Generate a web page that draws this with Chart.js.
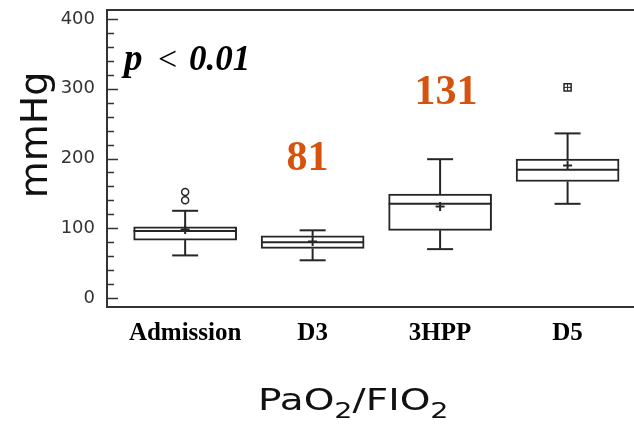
<!DOCTYPE html>
<html>
<head>
<meta charset="utf-8">
<script src="https://cdn.jsdelivr.net/npm/chart.js@4.4.1/dist/chart.umd.min.js"></script>
<style>
  html, body { margin: 0; padding: 0; background: #fff; }
  canvas { display: block; }
</style>
</head>
<body>
<canvas id="c" width="634" height="424"></canvas>
<script>
// PaO2/FIO2 by time point (mmHg): box-plot summaries
const categories  = ['Admission', 'D3', '3HPP', 'D5'];
const whiskerLow  = [61, 54, 70, 135];
const q1          = [83, 71, 97, 167];
const median      = [96, 80, 135, 184];
const q3          = [102, 89, 149, 199];
const whiskerHigh = [125, 97, 199, 236];
const means       = [98, 81, 131, 190];
const outliersAdmission = [140, 152];
const outliersD5  = [302];
const yTicks = [0, 20, 40, 60, 80, 100, 120, 140, 160, 180, 200, 220, 240, 260, 280, 300, 320, 340, 360, 380, 400];
const yLabelStep = 100;

const ink = '#262626';
const accent = '#d5530f';

// Whiskers, caps and median lines on top of the boxes
const boxExtras = {
  id: 'boxExtras',
  afterDatasetsDraw(chart) {
    const { ctx, scales: { x, y } } = chart;
    const boxes = chart.getDatasetMeta(0).data;
    const cap = 13;
    ctx.save();
    ctx.strokeStyle = ink;
    ctx.lineWidth = 2;
    const seg = (x1, y1, x2, y2) => { ctx.beginPath(); ctx.moveTo(x1, y1); ctx.lineTo(x2, y2); ctx.stroke(); };
    categories.forEach((c, i) => {
      const px = x.getPixelForValue(i + 1);
      const half = boxes[i].width / 2;
      const yHi = y.getPixelForValue(whiskerHigh[i]);
      const yLo = y.getPixelForValue(whiskerLow[i]);
      seg(px, y.getPixelForValue(q3[i]), px, yHi);
      seg(px - cap, yHi, px + cap, yHi);
      seg(px, y.getPixelForValue(q1[i]), px, yLo);
      seg(px - cap, yLo, px + cap, yLo);
      const ym = y.getPixelForValue(median[i]);
      seg(px - half, ym, px + half, ym);
    });
    ctx.restore();
  }
};

// Open frame (left, top, bottom) with inward tick marks
const frame = {
  id: 'frame',
  beforeDatasetsDraw(chart) {
    const { ctx, chartArea: a, scales: { y } } = chart;
    ctx.save();
    ctx.strokeStyle = '#333';
    ctx.lineWidth = 2;
    ctx.beginPath();
    ctx.moveTo(chart.width, a.top); ctx.lineTo(a.left, a.top);
    ctx.lineTo(a.left, a.bottom); ctx.lineTo(chart.width, a.bottom);
    ctx.stroke();
    ctx.lineWidth = 1.5;
    yTicks.forEach(v => {
      const py = Math.round(y.getPixelForValue(v)) + 0.5;
      const len = v % yLabelStep === 0 ? 11 : 7;
      ctx.beginPath(); ctx.moveTo(a.left, py); ctx.lineTo(a.left + len, py); ctx.stroke();
    });
    ctx.restore();
  }
};

// Titles, significance note and mean annotations
const annotations = {
  id: 'annotations',
  afterDraw(chart, args, opts) {
    const { ctx, chartArea: a, scales: { x, y } } = chart;
    ctx.save();

    // y-axis title
    ctx.fillStyle = '#111';
    ctx.font = '38px "DejaVu Sans"';
    ctx.textAlign = 'center';
    ctx.textBaseline = 'alphabetic';
    ctx.translate(47, 135);
    ctx.rotate(-Math.PI / 2);
    ctx.fillText('mmHg', 0, 0);
    ctx.setTransform(1, 0, 0, 1, 0, 0);

    // significance note
    ctx.textAlign = 'left';
    ctx.fillStyle = '#000';
    ctx.font = 'italic bold 37px "Liberation Serif"';
    ctx.fillText('p', a.left + 17, 70);
    ctx.font = '34px "Liberation Serif"';
    ctx.fillText('<', a.left + 51, 70);
    ctx.font = 'italic bold 35px "Liberation Serif"';
    ctx.fillText('0.01', a.left + 82, 70);

    // mean value labels
    ctx.fillStyle = accent;
    ctx.font = 'bold 42px "Liberation Serif"';
    ctx.textAlign = 'center';
    opts.meanLabels.forEach(l => {
      ctx.fillText(String(means[l.index]), x.getPixelForValue(l.index + 1) + l.dx, y.getPixelForValue(l.at));
    });

    // x-axis title with subscripts, drawn slightly widened
    ctx.fillStyle = '#111';
    ctx.textAlign = 'left';
    ctx.translate(258, 410);
    ctx.scale(1.3, 1);
    let cx = 0;
    const parts = [['PaO', 0], ['2', 1], ['/FIO', 0], ['2', 1]];
    parts.forEach(([t, sub]) => {
      ctx.font = sub ? '22px "DejaVu Sans"' : '30px "DejaVu Sans"';
      ctx.fillText(t, cx, sub ? 8 : 0);
      cx += ctx.measureText(t).width;
    });
    ctx.restore();
  }
};

new Chart(document.getElementById('c'), {
  type: 'bar',
  data: {
    datasets: [
      {
        type: 'bar',
        data: categories.map((c, i) => ({ x: i + 1, y: [q1[i], q3[i]] })),
        backgroundColor: '#fff',
        borderColor: ink,
        borderWidth: 2,
        borderSkipped: false,
        barThickness: 103,
        order: 3
      },
      {
        type: 'scatter',
        data: means.map((m, i) => ({ x: i + 1, y: m })),
        pointStyle: 'cross',
        pointRadius: 4.5,
        borderColor: ink,
        borderWidth: 2,
        order: 1
      },
      {
        type: 'scatter',
        data: outliersAdmission.map(v => ({ x: 1, y: v })),
        pointStyle: 'circle',
        pointRadius: 3.5,
        backgroundColor: '#fff',
        borderColor: ink,
        borderWidth: 1.5,
        order: 1
      },
      {
        type: 'scatter',
        data: outliersD5.map(v => ({ x: 4, y: v })),
        pointStyle: 'rect',
        pointRadius: 5,
        backgroundColor: '#fff',
        borderColor: ink,
        borderWidth: 1.5,
        order: 1
      },
      {
        type: 'scatter',
        data: outliersD5.map(v => ({ x: 4, y: v })),
        pointStyle: 'cross',
        pointRadius: 3.5,
        borderColor: ink,
        borderWidth: 1,
        order: 0
      }
    ]
  },
  options: {
    responsive: false,
    animation: false,
    devicePixelRatio: 1,
    layout: { padding: { top: 10, right: 0, bottom: 0, left: 0 } },
    plugins: {
      legend: { display: false },
      tooltip: { enabled: false },
      annotations: {
        meanLabels: [
          { index: 1, at: 184, dx: -5 },
          { index: 2, at: 278, dx: 6 }
        ]
      }
    },
    scales: {
      x: {
        type: 'linear',
        offset: false,
        min: 0.387,
        max: 4.47,
        grid: { display: false, drawTicks: false, offset: false },
        border: { display: false },
        afterBuildTicks(s) { s.ticks = categories.map((c, i) => ({ value: i + 1 })); },
        afterFit(s) { s.height = 117; s.paddingLeft = 0; s.paddingRight = 0; },
        ticks: {
          callback: v => categories[v - 1] ?? '',
          font: { family: 'Liberation Serif', weight: 'bold', size: 25 },
          color: '#000',
          padding: 12,
          maxRotation: 0,
          autoSkip: false
        }
      },
      y: {
        min: -13,
        max: 413,
        grid: { display: false, drawTicks: false },
        border: { display: false },
        afterBuildTicks(s) { s.ticks = yTicks.map(v => ({ value: v })); },
        afterFit(s) { s.width = 107; s.paddingTop = 0; s.paddingBottom = 0; },
        ticks: {
          callback: v => (v % yLabelStep === 0 ? String(v) : ''),
          font: { family: 'DejaVu Sans', size: 18 },
          color: '#333',
          padding: 12,
          autoSkip: false
        }
      }
    }
  },
  plugins: [frame, boxExtras, annotations]
});
</script>
</body>
</html>
